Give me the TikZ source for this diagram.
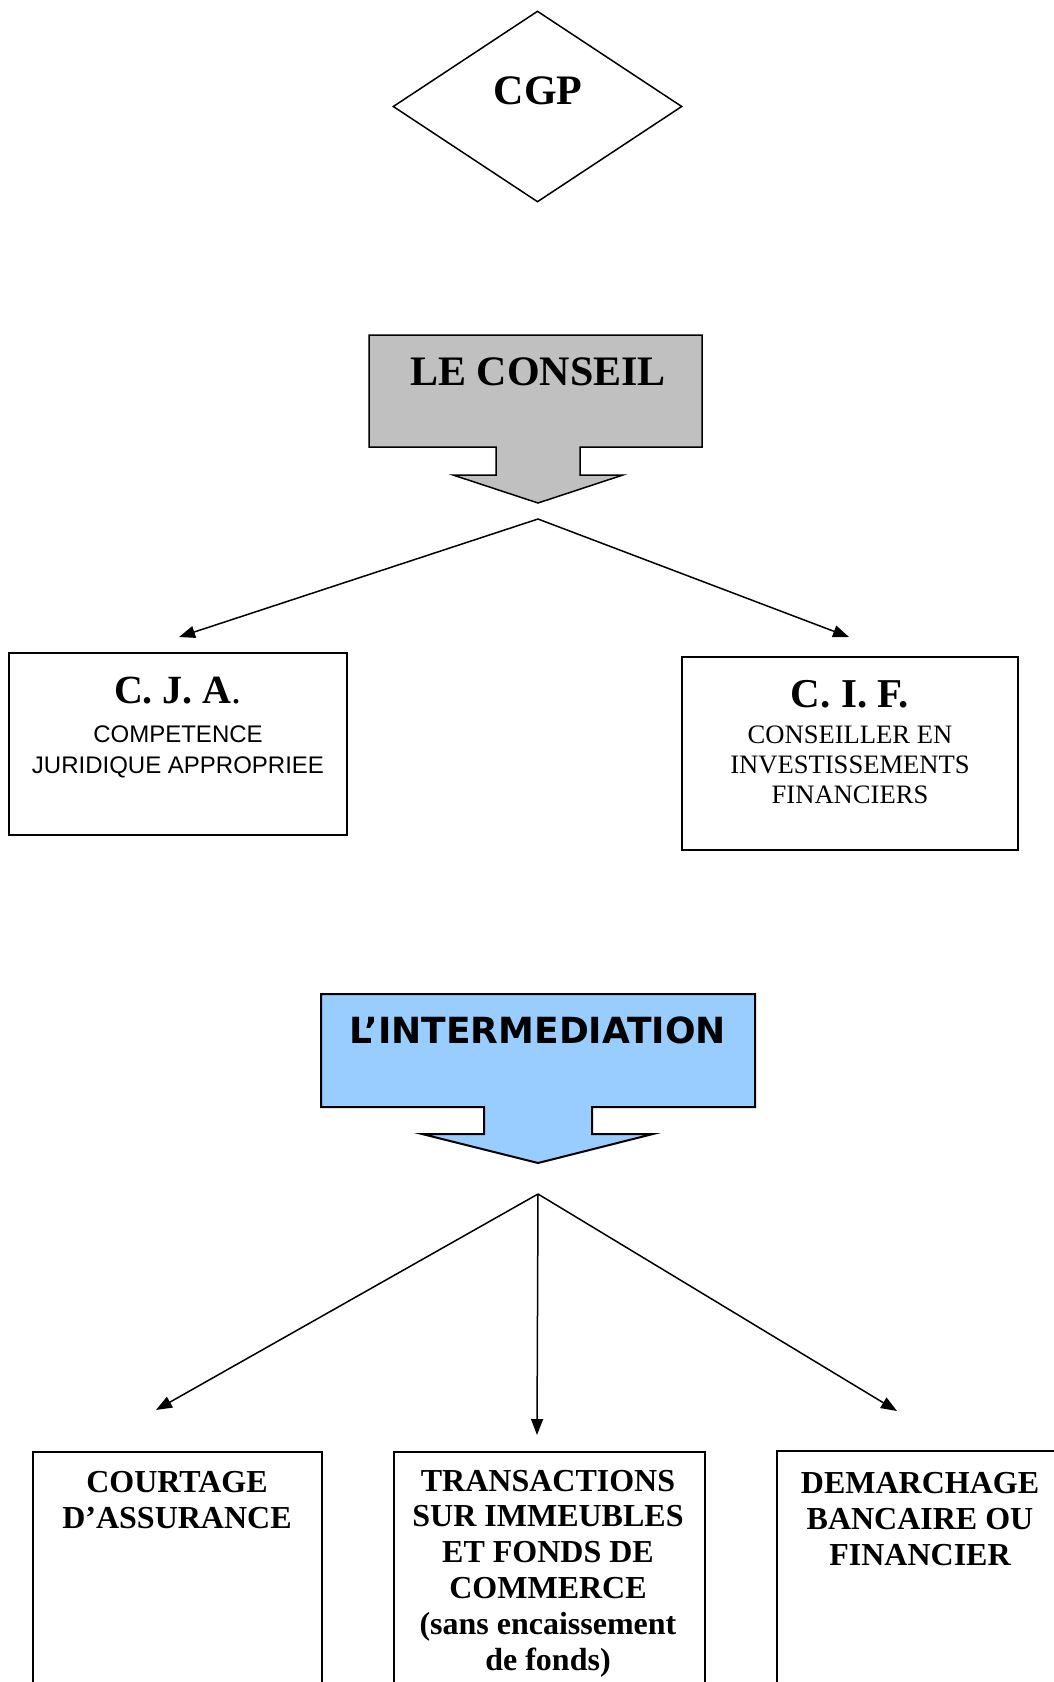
\documentclass[tikz,border=0pt]{standalone}
\usepackage{fontspec}
\setmainfont{Liberation Serif}
\setsansfont{Liberation Sans}
\newfontfamily\interfont{DejaVu Sans}
\usetikzlibrary{arrows.meta,shapes.geometric}
\definecolor{conseilgray}{HTML}{C0C0C0}
\definecolor{interblue}{HTML}{99CCFF}

\begin{document}
\begin{tikzpicture}[x=0.5pt,y=-0.5pt,
    box/.style={draw,line width=1pt,inner sep=0pt},
    fleche/.style={line width=0.75pt,-{Triangle[length=8pt,width=6pt]}},
    titre/.style={anchor=base,font=\bfseries\fontsize{21}{24}\selectfont},
    metier/.style={anchor=base,align=center,font=\bfseries\fontsize{16}{17.9}\selectfont}]
        \useasboundingbox (0,0) rectangle (1054,1682);

        % CGP
        \node[draw, diamond, line width=0.75pt, minimum width=144.5pt, minimum height=95.5pt, inner sep=0pt] (cgp) at (537.5,106.5) {};
        \node[titre] (cgp text) at (538,104) {CGP};

        % le conseil
        \filldraw[fill=conseilgray, line width=0.75pt] (369,335) -- (702,335) -- (702,447) -- (580,447) -- (580,475) -- (623,475)
              -- (538,503) -- (453,475) -- (496,475) -- (496,447) -- (369,447) -- cycle;
        \node[titre] (conseil) at (538,385) {LE CONSEIL};

        \coordinate (conseil split) at (538,519);
        \coordinate (cja in) at (179,637);
        \coordinate (cif in) at (849,637);
        \draw[fleche] (conseil split) -- (cja in);
        \draw[fleche] (conseil split) -- (cif in);

        % base = last line
        \node[box, minimum width=169pt, minimum height=91pt] (cja) at (178,744) {};
        \node[anchor=base, font=\fontsize{20}{24}\selectfont] (cja title) at (178,703) {\textbf{C. J. A}.};
        \node[anchor=base, align=center, font=\sffamily\fontsize{12}{15.5}\selectfont] (cja text) at (178,773) {COMPETENCE\\JURIDIQUE APPROPRIEE};

        \node[box, minimum width=168pt, minimum height=96.5pt] (cif) at (850,753.5) {};
        \node[anchor=base, font=\bfseries\fontsize{20.5}{24}\selectfont] (cif title) at (850,707) {C. I. F.};
        \node[anchor=base, align=center, font=\fontsize{13.3}{15}\selectfont] (cif text) at (850,803) {CONSEILLER EN\\INVESTISSEMENTS\\FINANCIERS};

        % l'intermediation
        \filldraw[fill=interblue, line width=1pt] (321,994) -- (755,994) -- (755,1107) -- (592,1107) -- (592,1134) -- (653,1134)
              -- (538,1163) -- (422,1134) -- (484,1134) -- (484,1107) -- (321,1107) -- cycle;
        \node[anchor=base, font=\interfont\bfseries\fontsize{18}{20}\selectfont] (inter) at (538,1043) {L’INTERMEDIATION};

        \coordinate (inter split) at (538,1194);
        \coordinate (courtage in) at (156,1410);
        \coordinate (transac in) at (537,1435);
        \coordinate (demarch in) at (897,1411);
        \draw[fleche] (inter split) -- (courtage in);
        \draw[fleche] (inter split) -- (transac in);
        \draw[fleche] (inter split) -- (demarch in);

        \node[box, anchor=north, minimum width=144.5pt, minimum height=160pt] (courtage) at (177.5,1451) {};
        \node[box, anchor=north, minimum width=155.5pt, minimum height=160pt] (transac) at (549.5,1451) {};
        \node[box, anchor=north, minimum width=143pt, minimum height=160pt] (demarch) at (920,1450) {};

        \node[metier] (courtage text) at (177,1528) {COURTAGE\\D’ASSURANCE};
        \node[metier] (transac text) at (548,1670) {TRANSACTIONS\\SUR IMMEUBLES\\ET FONDS DE\\COMMERCE\\(sans encaissement\\de fonds)};
        \node[metier] (demarch text) at (920,1565) {DEMARCHAGE\\BANCAIRE OU\\FINANCIER};
\end{tikzpicture}
\end{document}
